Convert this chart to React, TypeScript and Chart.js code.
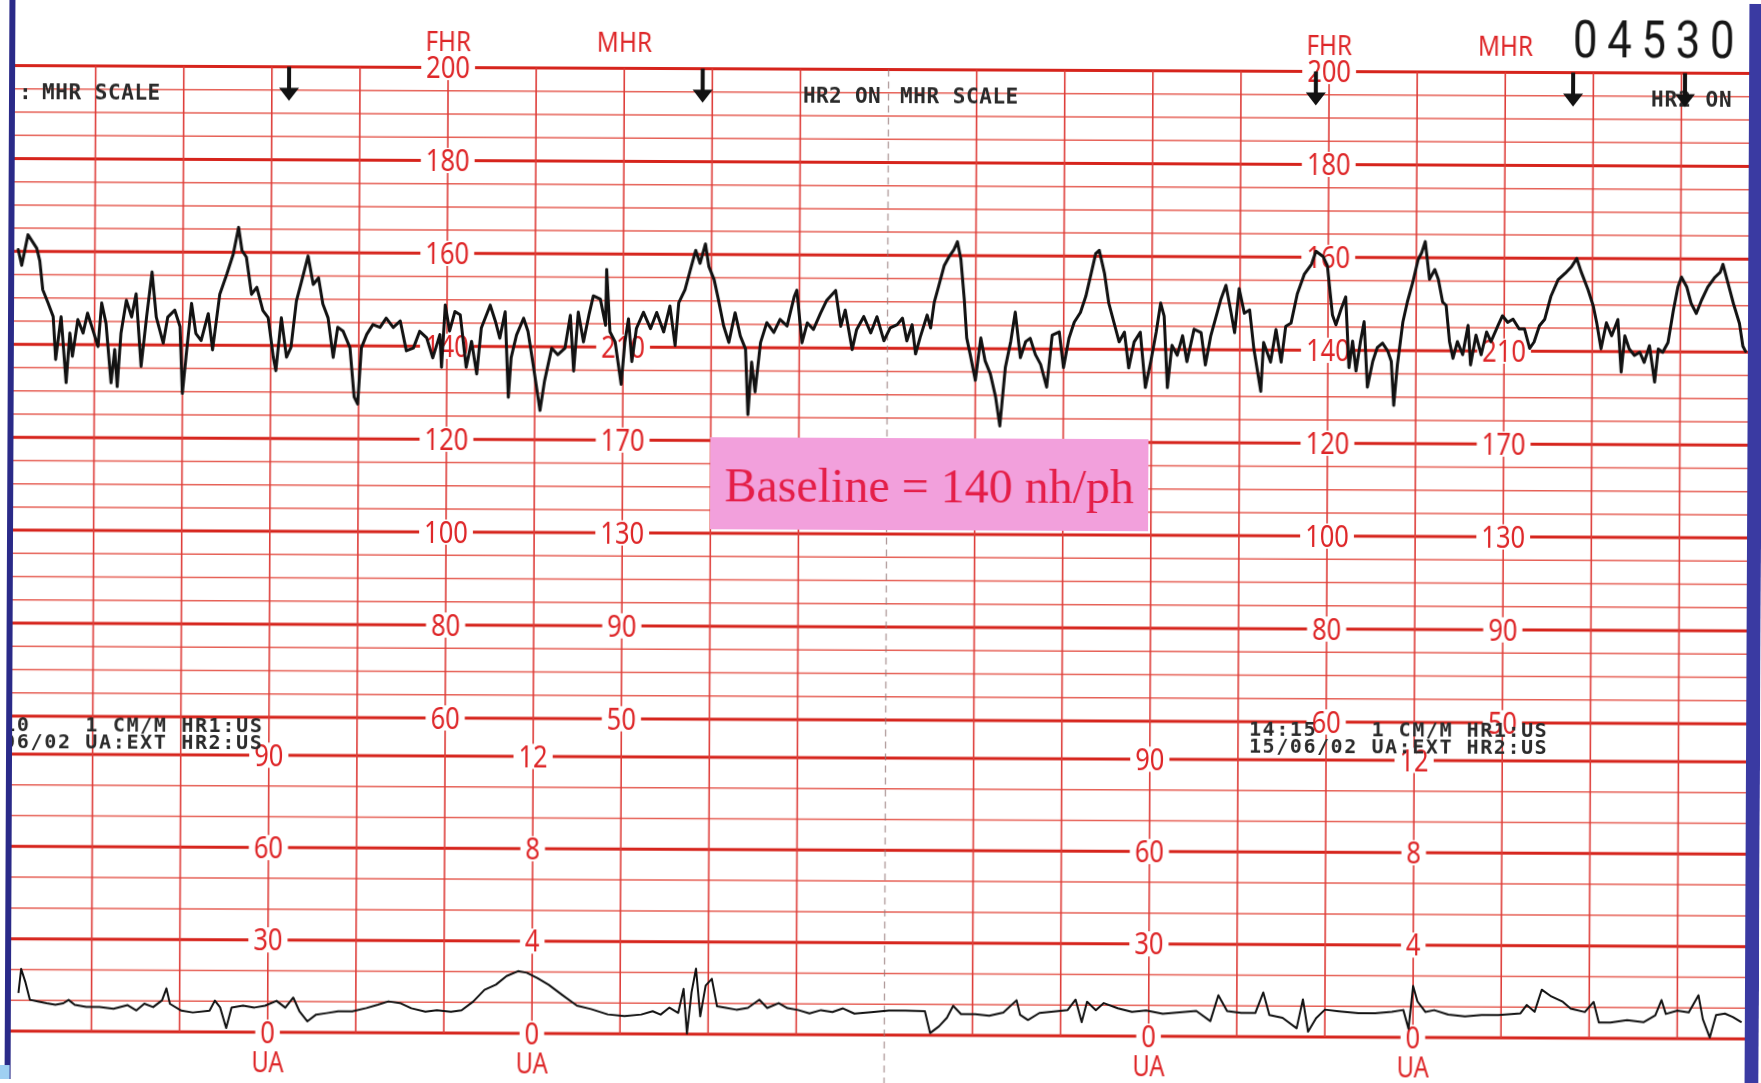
import React, { useEffect, useRef } from "react";
import { Chart, registerables } from "chart.js";

Chart.register(...registerables);

// ---------------- DATA ----------------
// time in minutes (one vertical paper line per minute), FHR in bpm
const fhrPart1: [number, number][] = [
  [0.13,160.4],[0.17,157],[0.24,163.6],[0.34,160.7],[0.375,158],[0.41,151.8],[0.47,149],[0.53,146],[0.56,136.8],[0.62,146],
  [0.68,131.8],[0.72,142.5],[0.75,137.5],[0.81,145.4],[0.87,142.5],[0.92,146.8],[0.98,143.2],[1.04,139.6],[1.08,149],[1.13,144.6],
  [1.19,131.8],[1.23,139],[1.26,131],[1.30,142.5],[1.36,149.6],[1.42,146],[1.47,151],[1.53,135.4],[1.59,146],[1.65,155.7],
  [1.70,146],[1.78,140.4],[1.83,146],[1.91,147.5],[1.97,144],[2.00,129.6],[2.04,137.5],[2.10,149],[2.15,142.5],[2.21,141],
  [2.29,146.8],[2.34,139],[2.42,151],[2.50,155.4],[2.57,159.6],[2.63,165.4],[2.67,160.4],[2.72,159],[2.78,151],[2.84,152.5],
  [2.91,147.5],[2.97,146],[3.03,137.5],[3.06,134.6],[3.12,146],[3.18,137.5],[3.23,139.6],[3.29,149.6],[3.35,154],[3.42,159.3],
  [3.48,153.2],[3.54,154.6],[3.59,149],[3.65,146],[3.71,137.5],[3.76,144],[3.82,143.2],[3.90,139.6],[3.95,129],[3.99,127.5],
  [4.03,139.6],[4.09,142.5],[4.16,144.6],[4.24,144],[4.31,146],[4.39,144],[4.47,145.4],[4.54,139],[4.62,139.6],[4.69,143.2],
  [4.77,141.8],[4.84,137.5],[4.92,142.5],
];
const fhrPart2: [number, number][] = [
  [4.94,135.5],[4.98,148.9],[5.03,143.3],[5.09,147.5],[5.15,146.8],[5.22,135.5],[5.28,141.1],[5.34,134.1],[5.39,144],[5.49,148.9],
  [5.55,145.4],[5.60,141.8],[5.66,147.5],[5.70,129.1],[5.73,137.6],[5.79,142.5],[5.87,146.1],[5.92,143.3],[5.98,136.2],[6.06,126.3],
  [6.11,132.6],[6.19,139.7],[6.26,138.3],[6.34,139.7],[6.40,146.8],[6.44,134.8],[6.49,147.5],[6.55,141.1],[6.61,146.8],[6.66,151],
  [6.74,150.3],[6.80,144.7],[6.81,156.7],[6.85,143.3],[6.91,141.1],[6.98,132],[7.02,141.1],[7.06,146.1],[7.10,136.9],[7.15,144],
  [7.23,147.5],[7.31,144],[7.38,147.5],[7.46,143.3],[7.53,148.9],[7.59,140.4],[7.63,149.6],[7.70,152.4],[7.76,156.7],[7.82,160.9],
  [7.87,158.1],[7.93,162.3],[7.97,157.4],[8.03,154.6],[8.08,150.3],[8.14,144.7],[8.20,141.1],[8.27,147.5],[8.33,142.5],[8.39,139.7],
  [8.42,125.6],[8.46,136.9],[8.50,130.5],[8.56,141.1],[8.63,145.4],[8.71,143.3],[8.78,146.1],[8.86,144.7],[8.94,151],[8.97,152.4],
  [9.03,141.1],[9.09,145.4],[9.16,144],[9.24,147.5],[9.31,150.3],[9.41,152.4],[9.47,144.7],[9.52,148.2],[9.60,139.7],[9.65,144],
  [9.73,146.8],[9.81,143.3],[9.88,146.8],
];
const fhrPart3: [number, number][] = [
  [9.96,141.6],[10.03,144.4],[10.11,145.1],[10.17,146.5],[10.22,141.6],[10.28,145.1],[10.32,138.8],[10.37,142.3],[10.45,147.2],[10.49,144.4],
  [10.53,150],[10.58,153.5],[10.64,157.8],[10.70,159.9],[10.75,161.3],[10.79,163],[10.83,159.2],[10.87,150.7],[10.90,142.3],[10.94,138.8],
  [11.00,133.2],[11.06,142.3],[11.11,137.4],[11.17,134.6],[11.23,129.7],[11.28,123.4],[11.34,136],[11.40,141.6],[11.45,147.9],[11.51,138.1],
  [11.57,141.6],[11.62,142.3],[11.68,138.8],[11.74,136.7],[11.81,131.8],[11.87,143],[11.95,143.7],[12.00,136],[12.06,142.3],[12.12,145.8],
  [12.19,147.9],[12.25,151.4],[12.31,156.4],[12.36,160.6],[12.40,161.3],[12.46,156.4],[12.51,150],[12.57,145.8],[12.63,141.6],[12.69,143.7],
  [12.74,136],[12.80,141.6],[12.87,143.7],[12.93,131.8],[12.99,137.4],[13.05,143.7],[13.10,150],[13.14,147.2],[13.18,131.8],[13.23,140.9],
  [13.29,138.8],[13.35,143],[13.40,137.4],[13.48,144.4],[13.56,143.7],[13.61,136.7],[13.67,143],[13.73,147.2],[13.78,150.7],[13.84,153.9],
  [13.90,147.9],[13.94,143.7],[13.99,153.2],[14.05,147.9],[14.11,148.6],[14.16,140.2],[14.24,131.1],[14.27,141.6],[14.35,137.4],[14.41,144.4],
  [14.47,137.4],[14.52,145.1],[14.58,145.8],[14.65,152.1],[14.73,156.4],[14.81,158.5],[14.86,161.3],[14.94,160.2],
];
const fhrPart4: [number, number][] = [
  [14.99,158.2],[15.05,147.6],[15.09,145.5],[15.15,149],[15.20,151.5],[15.24,136.3],[15.28,142],[15.32,135.6],[15.37,142],[15.41,146.2],
  [15.45,132.1],[15.51,137.7],[15.56,140.6],[15.62,141.6],[15.68,139.9],[15.72,137.7],[15.75,128.2],[15.79,137],[15.85,146.2],[15.90,150.5],
  [15.96,154.7],[16.02,159.6],[16.06,161.1],[16.10,163.5],[16.15,155.4],[16.21,157.5],[16.25,155.4],[16.30,150.5],[16.34,149.8],[16.38,142],
  [16.42,138.4],[16.47,142],[16.53,139.2],[16.59,145.5],[16.62,137],[16.68,143.4],[16.74,139.2],[16.80,144.1],[16.85,142],[16.93,145.5],
  [16.98,147.6],[17.04,146.2],[17.10,146.9],[17.17,144.8],[17.23,144.8],[17.29,140.6],[17.34,142],[17.40,145.5],[17.46,146.9],[17.53,151.9],
  [17.61,155.4],[17.69,156.8],[17.76,158.2],[17.82,160],[17.87,157.2],[17.95,153.3],[18.01,149.8],[18.05,146.2],[18.10,140.6],[18.16,146.2],
  [18.22,143.4],[18.29,146.9],[18.33,135.6],[18.37,143.4],[18.42,140.6],[18.48,139.2],[18.54,139.9],[18.59,137.7],[18.65,141.3],[18.71,133.5],
  [18.75,140.6],[18.80,139.9],[18.86,142],[18.92,149],[18.97,154],[19.01,156.1],[19.07,154],[19.12,150.5],[19.18,148.3],[19.24,151.2],
  [19.31,154],[19.39,156.1],[19.45,157.2],[19.48,158.9],[19.54,154.7],[19.60,150.5],[19.67,146.2],[19.71,141.3],[19.74,140.2],
];

// uterine activity (UA units)
const uaPart1: [number, number][] = [
  [0.17,12.4],[0.20,20.2],[0.25,15.8],[0.30,10.2],[0.39,9.7],[0.49,9.1],[0.59,8.6],[0.68,9.1],[0.74,10.2],[0.81,8.6],
  [0.94,8],[1.09,8],[1.25,7.4],[1.41,8.6],[1.51,6.9],[1.60,9.1],[1.70,8],[1.80,10.2],[1.85,14.1],[1.89,9.1],
  [2.02,6.9],[2.15,6.3],[2.34,6.9],[2.40,10.2],[2.46,8],[2.53,1.3],[2.59,8],[2.72,8.6],[2.85,8],[2.97,8.6],
  [3.10,10.2],[3.20,8],[3.29,11.3],[3.36,6.9],[3.45,3.6],[3.55,5.8],[3.67,6.3],[3.80,6.9],[3.96,6.9],[4.12,8],
  [4.25,9.1],[4.37,10.2],[4.50,9.7],[4.63,8],[4.79,6.9],[4.92,7.4],[5.08,6.9],[5.20,7.4],[5.33,10.2],[5.46,14.1],
  [5.59,15.8],[5.71,18.6],[5.84,20.2],[5.94,19.7],[6.06,18],[6.19,15.8],[6.35,12.4],[6.51,9.1],[6.67,8],[6.86,6.3],
  [7.05,5.8],[7.24,6.3],[7.37,7.4],[7.46,6.3],[7.56,8.6],[7.66,6.9],[7.72,14.7],[7.76,0.2],[7.81,13.6],[7.86,21.3],
  [7.91,5.8],[7.97,15.8],[8.04,18],[8.10,9.1],[8.20,8.6],[8.32,8],[8.45,8.6],[8.58,11.3],[8.67,8.6],[8.80,10.2],
  [8.90,8.6],[9.02,8],[9.15,6.9],[9.28,8],[9.41,7.4],[9.53,8.6],[9.66,6.9],[9.85,7.4],
];
const uaPart2: [number, number][] = [
  [10.05,8],[10.24,8],[10.46,7.8],[10.52,0.7],[10.62,2.9],[10.71,5.7],[10.78,9.6],[10.87,6.9],[11.03,6.9],[11.19,6.4],
  [11.35,7.5],[11.50,11.5],[11.54,6.8],[11.63,5.1],[11.76,7.4],[11.92,7.9],[12.08,8.4],[12.17,11.8],[12.24,4.5],[12.30,11.1],
  [12.40,8.4],[12.49,10.7],[12.65,9],[12.81,7.9],[12.97,8.4],[13.16,7.3],[13.35,7.8],[13.54,8.3],[13.70,5],[13.79,13.4],
  [13.89,8.3],[14.05,7.7],[14.21,7.7],[14.30,14.4],[14.37,7.1],[14.52,6.2],[14.68,2.8],[14.75,12.2],[14.81,1.7],[14.90,6.1],
  [15.00,8.9],[15.16,8.4],[15.38,7.8],[15.57,7.8],[15.76,8.3],[15.89,8.9],[15.95,2.8],[16.00,16.7],[16.05,11.7],[16.14,8.3],
  [16.24,8.9],[16.40,7.5],[16.59,6.9],[16.78,7.4],[16.97,7.4],[17.22,8],[17.29,10.7],[17.38,8.5],[17.46,15.7],[17.57,13.5],
  [17.70,11.8],[17.79,9.6],[17.95,8.5],[18.05,11.8],[18.11,5.1],[18.24,5.1],[18.43,5.9],[18.62,5.3],[18.75,7.5],[18.82,12.5],
  [18.87,8],[19.00,9.1],[19.13,8.5],[19.24,14.1],[19.29,6.4],[19.37,0.4],[19.44,7.7],[19.54,8.2],[19.63,7.1],[19.73,5.4],
];

// event marker arrows (minutes)
const eventMarkTimes = [3.195, 7.89, 14.85, 17.77, 19.04];

// scale ticks printed on the paper
const fhrTickValues = [200, 180, 160, 140, 120, 100, 80, 60];
const mhrTickAtFhr = [140, 120, 100, 80, 60];
const mhrTickLabels = ["210", "170", "130", "90", "50"];
const uaTickValues = [90, 60, 30, 0];
const kpaTickLabels = ["12", "8", "4", "0"];

// label columns (minute lines where scales are printed)
const fhrLabelMinutes = [5, 15];
const mhrLabelMinutes = [7, 17];
const uaLabelMinutes = [3, 13];
const kpaLabelMinutes = [6, 16];

// paper grid
const fhrGridMin = 60, fhrGridMax = 200, fhrMinorStep = 5, fhrMajorStep = 20;
const uaGridMin = 0, uaGridMax = 90, uaMinorStep = 10, uaMajorStep = 30;
const minuteLines = [1,2,3,4,5,6,7,8,9,10,11,12,13,14,15,16,17,18,19];
const perforationMinute = 10;

const baselineFHR = 140;
const recorderNumber = "04530";
const printLeft = ["14:10    1 CM/M HR1:US", "15/06/02 UA:EXT HR2:US"];
const printRight = ["14:15    1 CM/M HR1:US", "15/06/02 UA:EXT HR2:US"];

// ---------------- STYLE ----------------
const RED_MAJOR = "rgb(214,36,28)";
const RED_MINOR = "rgb(230,96,86)";
const RED_V = "rgb(222,62,58)";
const RED_TEXT = "rgb(222,38,40)";
const INK = "#121212";
const PRINT = "#2a2a2a";

function hline(ctx: CanvasRenderingContext2D, x1: number, x2: number, y: number) {
  ctx.beginPath();
  ctx.moveTo(x1, y);
  ctx.lineTo(x2, y);
  ctx.stroke();
}

function redLabel(ctx: CanvasRenderingContext2D, text: string, x: number, y: number, size: number, sx = 0.85, box = true) {
  ctx.save();
  ctx.font = `${size}px "Noto Sans", "DejaVu Sans", sans-serif`;
  const w = ctx.measureText(text).width * sx;
  if (box) {
    ctx.fillStyle = "#ffffff";
    ctx.fillRect(x - w / 2 - 5, y - size * 0.42, w + 10, size * 0.84);
  }
  ctx.translate(x, y);
  ctx.scale(sx, 1);
  ctx.fillStyle = RED_TEXT;
  ctx.textAlign = "center";
  ctx.textBaseline = "alphabetic";
  ctx.fillText(text, 0, size * 0.357);
  ctx.restore();
}

function monoText(ctx: CanvasRenderingContext2D, text: string, x: number, y: number, pitch: number, size: number) {
  ctx.save();
  ctx.font = `bold ${size}px "DejaVu Sans Mono", monospace`;
  ctx.fillStyle = PRINT;
  ctx.textAlign = "left";
  ctx.textBaseline = "alphabetic";
  for (let i = 0; i < text.length; i++) ctx.fillText(text[i], x + i * pitch, y);
  ctx.restore();
}

const paperPlugin = {
  id: "ctgPaper",
  beforeDatasetsDraw(chart: any) {
    const ctx: CanvasRenderingContext2D = chart.ctx;
    const W = chart.width, H = chart.height;
    const xs = chart.scales.x, yF = chart.scales.yF, yU = chart.scales.yU;
    const L = 13, R = 1747;
    ctx.save();
    ctx.fillStyle = "#ffffff";
    ctx.fillRect(0, 0, W, H);
    ctx.lineCap = "butt";

    // horizontal FHR lines
    for (let v = fhrGridMin; v <= fhrGridMax; v += fhrMinorStep) {
      const major = v % fhrMajorStep === 0;
      ctx.strokeStyle = major ? RED_MAJOR : RED_MINOR;
      ctx.lineWidth = major ? 3 : 1.5;
      hline(ctx, L, R, yF.getPixelForValue(v));
    }
    // horizontal UA lines
    for (let v = uaGridMin; v <= uaGridMax; v += uaMinorStep) {
      const major = v % uaMajorStep === 0;
      ctx.strokeStyle = major ? RED_MAJOR : RED_MINOR;
      ctx.lineWidth = major ? 3 : 1.5;
      hline(ctx, L, R, yU.getPixelForValue(v));
    }
    // vertical minute lines
    const top = yF.getPixelForValue(fhrGridMax);
    const bot = yU.getPixelForValue(uaGridMin);
    for (const m of minuteLines) {
      const x = xs.getPixelForValue(m);
      ctx.beginPath();
      if (m === perforationMinute) {
        ctx.strokeStyle = "rgba(150,120,120,0.75)";
        ctx.lineWidth = 1.3;
        ctx.setLineDash([7, 5]);
        ctx.moveTo(x, top);
        ctx.lineTo(x, H);
      } else {
        ctx.strokeStyle = RED_V;
        ctx.lineWidth = 1.6;
        ctx.setLineDash([]);
        ctx.moveTo(x, top);
        ctx.lineTo(x, bot);
      }
      ctx.stroke();
    }
    ctx.setLineDash([]);

    // printed scale labels
    for (const m of fhrLabelMinutes) {
      const x = xs.getPixelForValue(m);
      fhrTickValues.forEach((v) => redLabel(ctx, String(v), x, yF.getPixelForValue(v), 30));
      redLabel(ctx, "FHR", x, 43, 27, 0.9, false);
    }
    for (const m of mhrLabelMinutes) {
      const x = xs.getPixelForValue(m);
      mhrTickAtFhr.forEach((v, i) => redLabel(ctx, mhrTickLabels[i], x, yF.getPixelForValue(v), 30));
      redLabel(ctx, "MHR", x, 43, 27, 0.9, false);
    }
    for (const m of uaLabelMinutes) {
      const x = xs.getPixelForValue(m);
      uaTickValues.forEach((v) => redLabel(ctx, String(v), x, yU.getPixelForValue(v), 30));
      redLabel(ctx, "UA", x, 1065, 29, 0.82, false);
    }
    for (const m of kpaLabelMinutes) {
      const x = xs.getPixelForValue(m);
      uaTickValues.forEach((v, i) => redLabel(ctx, kpaTickLabels[i], x, yU.getPixelForValue(v), 30));
      redLabel(ctx, "UA", x, 1065, 29, 0.82, false);
    }

    // printer annotations
    monoText(ctx, ":", 17, 103, 13, 21);
    monoText(ctx, "MHR SCALE", 40, 103, 13.2, 21);
    monoText(ctx, "HR2 ON", 801, 103, 13, 21);
    monoText(ctx, "MHR SCALE", 898, 103, 13.2, 21);
    monoText(ctx, "HR2 ON", 1649, 103, 13.6, 21);

    ctx.save();
    ctx.beginPath();
    ctx.rect(L, 0, R - L, H);
    ctx.clip();
    monoText(ctx, printLeft[0], -37, 735, 13.7, 20);
    monoText(ctx, printLeft[1], -37, 752, 13.7, 20);
    ctx.restore();
    monoText(ctx, printRight[0], 1250, 734, 13.6, 20);
    monoText(ctx, printRight[1], 1250, 751, 13.6, 20);

    // recorder number
    ctx.save();
    ctx.font = `400 52px Roboto, "Noto Sans", sans-serif`;
    ctx.fillStyle = "#161616";
    ctx.textAlign = "center";
    for (let i = 0; i < recorderNumber.length; i++) {
      ctx.save();
      ctx.translate(1583 + i * 34.25, 54);
      ctx.scale(0.84, 1);
      ctx.fillText(recorderNumber[i], 0, 0);
      ctx.restore();
    }
    ctx.restore();
    ctx.restore();
  },
  afterDatasetsDraw(chart: any) {
    const ctx: CanvasRenderingContext2D = chart.ctx;
    const H = chart.height;
    const xs = chart.scales.x, yF = chart.scales.yF;
    ctx.save();
    // event arrows
    const y0 = yF.getPixelForValue(fhrGridMax);
    for (const t of eventMarkTimes) {
      const x = xs.getPixelForValue(t);
      ctx.fillStyle = INK;
      ctx.fillRect(x - 2, y0, 4, 22);
      ctx.beginPath();
      ctx.moveTo(x - 10, y0 + 21);
      ctx.lineTo(x + 10, y0 + 21);
      ctx.lineTo(x, y0 + 34);
      ctx.closePath();
      ctx.fill();
    }
    // baseline annotation box
    ctx.fillStyle = "rgb(242,160,220)";
    ctx.fillRect(710, 438, 438, 92);
    ctx.font = `48px "Liberation Serif", "Times New Roman", serif`;
    ctx.fillStyle = "rgb(228,30,72)";
    ctx.textAlign = "center";
    ctx.textBaseline = "alphabetic";
    ctx.fillText(`Baseline = ${baselineFHR} nh/ph`, 929, 502);

    // paper edges
    ctx.fillStyle = "#2a2a88";
    ctx.fillRect(7, 0, 6, H);
    ctx.fillStyle = "#3a3aa2";
    ctx.fillRect(1747, 0, 14, H);
    ctx.fillStyle = "#9fd0f2";
    ctx.fillRect(0, 1069, 12, 14);
    ctx.restore();
  },
};

export default function App() {
  const ref = useRef<HTMLCanvasElement | null>(null);
  useEffect(() => {
    if (!ref.current) return;
    const toXY = (arr: [number, number][]) => arr.map(([x, y]) => ({ x, y }));
    const fhrData = [...fhrPart1, ...fhrPart2, ...fhrPart3, ...fhrPart4];
    const uaData = [...uaPart1, ...uaPart2];
    const chart = new Chart(ref.current, {
      type: "line",
      data: {
        datasets: [
          {
            label: "FHR",
            data: toXY(fhrData),
            yAxisID: "yF",
            borderColor: INK,
            borderWidth: 3,
            pointRadius: 0,
            tension: 0,
            borderJoinStyle: "round",
            borderCapStyle: "round",
            fill: false,
          },
          {
            label: "UA",
            data: toXY(uaData),
            yAxisID: "yU",
            borderColor: INK,
            borderWidth: 2,
            pointRadius: 0,
            tension: 0,
            borderJoinStyle: "round",
            fill: false,
          },
        ],
      },
      options: {
        animation: false,
        responsive: false,
        maintainAspectRatio: false,
        layout: { padding: 0 },
        plugins: { legend: { display: false }, tooltip: { enabled: false } },
        events: [],
        scales: {
          x: { type: "linear", min: -0.0624, max: 19.926, display: false },
          yF: { type: "linear", min: -18.14, max: 214.96, display: false },
          yU: { type: "linear", min: -15.59, max: 336.26, display: false },
        },
      },
      plugins: [paperPlugin],
    } as any);
    return () => chart.destroy();
  }, []);
  return (
    <div style={{ position: "absolute", left: 0, top: 0, width: 1761, height: 1083, overflow: "hidden", background: "#fff" }}>
      <canvas
        ref={ref}
        width={1761}
        height={1083}
        style={{ width: 1761, height: 1083, display: "block", transform: "rotate(0.26deg)", transformOrigin: "880px 541px" }}
      />
    </div>
  );
}
